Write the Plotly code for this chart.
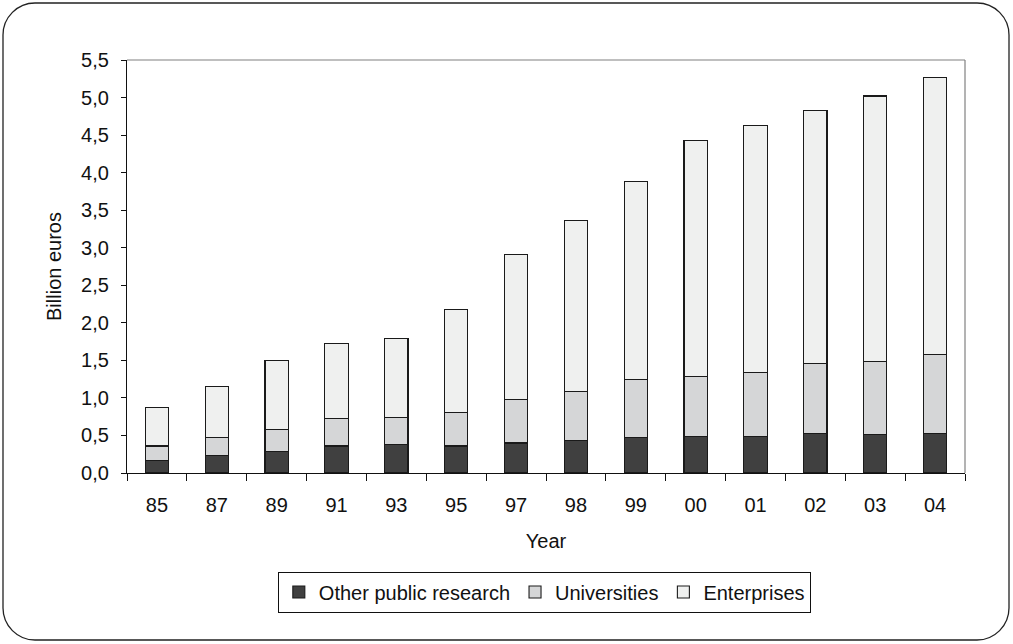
import plotly.graph_objects as go

years = ["85", "87", "89", "91", "93", "95", "97", "98", "99", "00", "01", "02", "03", "04"]
other_public = [0.17, 0.23, 0.29, 0.36, 0.38, 0.36, 0.40, 0.43, 0.47, 0.49, 0.49, 0.53, 0.51, 0.53]
universities = [0.19, 0.24, 0.29, 0.37, 0.365, 0.44, 0.58, 0.66, 0.77, 0.79, 0.845, 0.93, 0.97, 1.045]
enterprises = [0.515, 0.68, 0.92, 0.99, 1.045, 1.38, 1.93, 2.275, 2.64, 3.15, 3.295, 3.37, 3.54, 3.695]
y_ticks = [0, 0.5, 1.0, 1.5, 2.0, 2.5, 3.0, 3.5, 4.0, 4.5, 5.0, 5.5]

W, H = 1013, 644
L, R, T, B = 127, 965, 60, 473

fig = go.Figure()
series = [("Other public research", other_public, "#404040"),
          ("Universities", universities, "#d5d6d7"),
          ("Enterprises", enterprises, "#eff0ef")]
for name, vals, col in series:
    fig.add_trace(go.Bar(x=years, y=vals, name=name,
                         marker=dict(color=col, line=dict(color="#1a1a1a", width=1.1))))

def px(x):
    return (x - L) / (R - L)

def py(y):
    return (B - y) / (B - T)

# rounded outer frame
x0, x1, y0, y1, r = 3, 1009, 3, 640, 32
k = 0.45
path = (f"M {px(x0+r)},{py(y0)} L {px(x1-r)},{py(y0)} "
        f"C {px(x1-r*k)},{py(y0)} {px(x1)},{py(y0+r*k)} {px(x1)},{py(y0+r)} "
        f"L {px(x1)},{py(y1-r)} "
        f"C {px(x1)},{py(y1-r*k)} {px(x1-r*k)},{py(y1)} {px(x1-r)},{py(y1)} "
        f"L {px(x0+r)},{py(y1)} "
        f"C {px(x0+r*k)},{py(y1)} {px(x0)},{py(y1-r*k)} {px(x0)},{py(y1-r)} "
        f"L {px(x0)},{py(y0+r)} "
        f"C {px(x0)},{py(y0+r*k)} {px(x0+r*k)},{py(y0)} {px(x0+r)},{py(y0)} Z")
fig.add_shape(type="path", path=path, xref="paper", yref="paper",
              line=dict(color="#222222", width=1.3), layer="below")
# top and right frame of plot area
fig.add_shape(type="line", xref="paper", yref="paper", x0=0, x1=1, y0=1, y1=1,
              line=dict(color="#808080", width=1.2))
fig.add_shape(type="line", xref="paper", yref="paper", x0=1, x1=1, y0=0, y1=1,
              line=dict(color="#808080", width=1.2))

font = "Liberation Sans, Arial, sans-serif"
fs = 20
fig.update_layout(
    width=W, height=H,
    margin=dict(l=L, r=W - R, t=T, b=H - B),
    paper_bgcolor="white", plot_bgcolor="white",
    barmode="stack", bargap=0.61,
    separators=", ",
    font=dict(family=font, size=fs, color="#111111"),
    showlegend=True,
    legend=dict(orientation="h", x=0.498, xanchor="center", y=py(592), yanchor="middle",
                bordercolor="#111111", borderwidth=1, bgcolor="white",
                font=dict(size=fs), itemwidth=30, traceorder="normal"),
    xaxis=dict(type="category", showline=True, linecolor="#111111", linewidth=1.2,
               ticks="outside", tickson="boundaries", ticklen=7, tickcolor="#111111",
               showgrid=False, tickfont=dict(size=fs), ticklabelstandoff=14,
               title=dict(text="Year", font=dict(size=fs), standoff=18)),
    yaxis=dict(range=[0, 5.5], tickvals=y_ticks, tickformat=".1f",
               showline=True, linecolor="#111111", linewidth=1.2,
               ticks="outside", ticklen=5, tickcolor="#111111",
               showgrid=False, zeroline=False, tickfont=dict(size=fs),
               ticklabelstandoff=8,
               title=dict(text="Billion euros", font=dict(size=fs), standoff=14)),
)

fig.write_html("out.html", config={"displayModeBar": False},
               post_script="document.body.style.margin='0';")
